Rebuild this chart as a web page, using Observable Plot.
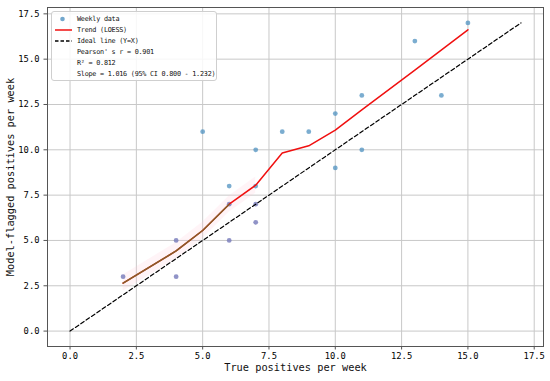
<!DOCTYPE html>
<html><head><meta charset="utf-8">
<script src="https://cdn.jsdelivr.net/npm/d3@7"></script>
<script src="https://cdn.jsdelivr.net/npm/@observablehq/plot@0.6"></script>
<style>
body{margin:0;background:#fff;}
#wrap{position:relative;width:550px;height:381px;}
#legend{position:absolute;left:51px;top:11px;width:164px;height:68px;border:1px solid #cfcfcf;border-radius:3px;background:rgba(255,255,255,0.85);font-family:"DejaVu Sans Mono",monospace;font-size:6.8px;letter-spacing:-0.25px;color:#111;}
#legend .row{position:absolute;left:0;height:10px;line-height:10px;}
#legend .sym{position:absolute;left:2px;width:20px;height:10px;}
#legend .txt{position:absolute;left:25px;white-space:nowrap;}
</style></head>
<body><div id="wrap"><div id="chart"></div><div id="legend"></div></div>
<script>
// Weekly data
const trueX = [2, 4, 4, 5, 6, 6, 6, 7, 7, 7, 7, 8, 9, 10, 10, 11, 11, 13, 14, 15];
const flaggedY = [3, 5, 3, 11, 8, 7, 5, 10, 8, 7, 6, 11, 11, 12, 9, 13, 10, 16, 13, 17];
// LOESS trend
const trendX = [2, 4, 5, 6, 7, 8, 9, 10, 11, 13, 15];
const trendY = [2.65, 4.42, 5.55, 7.0, 8.05, 9.82, 10.22, 11.09, 12.2, 14.4, 16.62];
// Ideal line
const idealX = [0, 17];
// ticks
const xTicks = [0, 2.5, 5, 7.5, 10, 12.5, 15, 17.5];
const yTicks = [0, 2.5, 5, 7.5, 10, 12.5, 15, 17.5];
const xLabel = "True positives per week";
const yLabel = "Model-flagged positives per week";
const legendLabels = ["Weekly data", "Trend (LOESS)", "Ideal line (Y=X)", "Pearson' s r = 0.901", "R² = 0.812", "Slope = 1.016 (95% CI 0.800 - 1.232)"];

const pts = trueX.map((x, i) => ({x, y: flaggedY[i]}));
const trend = trendX.map((x, i) => ({x, y: trendY[i]}));
const ideal = idealX.map(x => ({x, y: x}));
const fmt = d => d.toFixed(1);

const chart = Plot.plot({
  width: 550, height: 381,
  marginLeft: 47, marginRight: 7, marginTop: 7, marginBottom: 35,
  style: {fontFamily: "DejaVu Sans Mono", background: "#fff"},
  x: {domain: [-0.85, 17.85]},
  y: {domain: [-0.85, 17.85]},
  marks: [
    Plot.gridX(xTicks, {stroke: "#c8c8c8", strokeOpacity: 1, strokeWidth: 1}),
    Plot.gridY(yTicks, {stroke: "#c8c8c8", strokeOpacity: 1, strokeWidth: 1}),
    Plot.areaY(trend.filter(d => d.x <= 7), {x: "x", y1: d => d.y - 0.45, y2: d => d.y + 0.45, fill: "#ffc6d6", fillOpacity: 0.2}),
    Plot.dot(pts.filter(d => !(d.x <= 7 && d.y <= 7)), {x: "x", y: "y", r: 2.4, fill: "#4f91c0", fillOpacity: 0.75}),
    Plot.dot(pts.filter(d => d.x <= 7 && d.y <= 7), {x: "x", y: "y", r: 2.4, fill: "#7c80bd", fillOpacity: 0.85}),
    Plot.line(ideal, {x: "x", y: "y", stroke: "#000", strokeWidth: 1.2, strokeDasharray: "4,2.5"}),
    Plot.line(trend, {x: "x", y: "y", stroke: "#f01010", strokeWidth: 1.5}),
    Plot.line(trend.filter(d => d.x <= 6.8), {x: "x", y: "y", stroke: "#85602a", strokeWidth: 1.5}),
    Plot.frame({stroke: "#555", strokeWidth: 1}),
    Plot.axisX(xTicks, {tickFormat: fmt, tickSize: 3.5, tickPadding: 3, fontSize: 8.8, label: null, stroke: "#555"}),
    Plot.axisY(yTicks, {tickFormat: fmt, tickSize: 3.5, tickPadding: 4.5, fontSize: 8.8, label: null, stroke: "#555"}),
    Plot.text([xLabel], {text: d => d, frameAnchor: "bottom", dy: 21, textAnchor: "middle", lineAnchor: "middle", fontSize: 10.3, fill: "#111"}),
    Plot.text([yLabel], {text: d => d, frameAnchor: "left", dx: -37, rotate: -90, textAnchor: "middle", lineAnchor: "middle", fontSize: 10.3, fill: "#111"})
  ]
});
document.getElementById("chart").appendChild(chart);

// legend
const leg = document.getElementById("legend");
const syms = [
  '<svg width="20" height="10"><circle cx="8.5" cy="5" r="2.3" fill="#4f91c0" fill-opacity="0.8"/></svg>',
  '<svg width="20" height="10"><line x1="1" y1="5" x2="18" y2="5" stroke="#f01010" stroke-width="1.5"/></svg>',
  '<svg width="20" height="10"><line x1="1" y1="5" x2="18" y2="5" stroke="#000" stroke-width="1.3" stroke-dasharray="3.5,2"/></svg>',
  "", "", ""
];
legendLabels.forEach((t, i) => {
  const row = document.createElement("div");
  row.className = "row";
  row.style.top = (2 + i * 10.9) + "px";
  row.innerHTML = '<div class="sym">' + syms[i] + '</div><div class="txt">' + t + '</div>';
  leg.appendChild(row);
});
</script>
</body></html>
